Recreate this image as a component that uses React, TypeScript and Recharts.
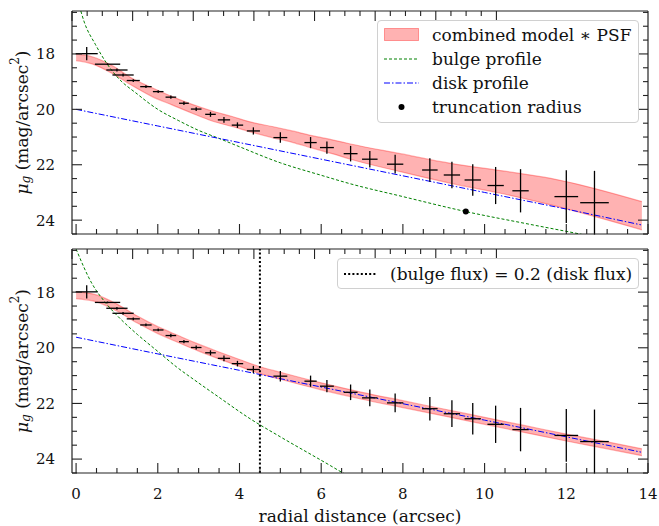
import React from 'react';
import {
  ComposedChart,
  Area,
  Line,
  Scatter,
  ErrorBar,
  XAxis,
  YAxis,
  ReferenceLine,
} from 'recharts';

const FONT = "'DejaVu Serif', serif";
const AXIS = '#222';

// measured surface brightness profile
const radius = [0.26, 0.77, 1.0, 1.15, 1.4, 1.71, 2.01, 2.32, 2.64, 2.94, 3.29, 3.62, 3.95, 4.34, 5.0, 5.74, 6.14, 6.72, 7.19, 7.81, 8.66, 9.2, 9.71, 10.27, 10.88, 12.0, 12.69];
const mu = [17.99, 18.37, 18.58, 18.76, 18.96, 19.18, 19.36, 19.56, 19.78, 19.99, 20.18, 20.38, 20.57, 20.78, 21.02, 21.2, 21.38, 21.6, 21.8, 21.98, 22.19, 22.37, 22.55, 22.75, 22.94, 23.15, 23.37];
const radiusErr = [0.27, 0.31, 0.26, 0.26, 0.16, 0.14, 0.13, 0.13, 0.12, 0.13, 0.13, 0.15, 0.14, 0.16, 0.17, 0.15, 0.17, 0.17, 0.19, 0.2, 0.19, 0.2, 0.2, 0.2, 0.2, 0.29, 0.35];
const muErr = [0.24, 0.03, 0.05, 0.05, 0.05, 0.05, 0.05, 0.06, 0.06, 0.07, 0.09, 0.1, 0.1, 0.13, 0.19, 0.2, 0.22, 0.28, 0.3, 0.34, 0.42, 0.48, 0.57, 0.67, 0.78, 0.95, 1.15];

// top panel: combined model * PSF band
const bandTopX = [0, 0.39, 0.88, 1.37, 1.86, 2.35, 2.84, 3.33, 3.82, 4.31, 4.8, 5.29, 5.78, 6.27, 6.72, 7.94, 9.17, 10.39, 11.62, 13.85];
const bandTopLo = [18.01, 18.1, 18.42, 18.88, 19.22, 19.54, 19.82, 20.06, 20.26, 20.47, 20.62, 20.78, 20.95, 21.1, 21.25, 21.6, 21.95, 22.21, 22.49, 23.33];
const bandTopHi = [18.24, 18.36, 18.7, 19.14, 19.54, 19.84, 20.14, 20.42, 20.62, 20.83, 21.02, 21.19, 21.4, 21.6, 21.8, 22.25, 22.67, 23.03, 23.45, 24.35];

// top panel: components
const bulgeTopX = [0.05, 0.2, 0.47, 0.75, 1.0, 1.5, 2.0, 2.5, 3.0, 3.5, 4.0, 5.0, 6.0, 6.72, 8.0, 9.54, 11.0, 12.4, 13.0];
const bulgeTopY = [16.1, 16.85, 17.65, 18.34, 18.82, 19.45, 20.0, 20.4, 20.76, 21.05, 21.35, 21.93, 22.38, 22.69, 23.15, 23.69, 24.12, 24.52, 24.7];
const diskTopX = [0, 2, 4, 6, 8, 10, 12, 13.83];
const diskTopY = [20.0, 20.6, 21.2, 21.8, 22.4, 23.0, 23.6, 24.17];
const truncX = [9.54];
const truncY = [23.69];

// bottom panel: constrained fit
const bandBotX = [0, 0.5, 1.0, 1.5, 2.0, 2.5, 3.0, 3.5, 4.0, 4.5, 5.0, 6.0, 7.0, 8.0, 9.0, 10.0, 11.0, 12.0, 13.0, 13.85];
const bandBotLo = [17.98, 18.1, 18.43, 18.86, 19.24, 19.56, 19.87, 20.15, 20.42, 20.68, 20.88, 21.26, 21.6, 21.9, 22.2, 22.5, 22.8, 23.1, 23.38, 23.63];
const bandBotHi = [18.23, 18.35, 18.68, 19.11, 19.49, 19.81, 20.12, 20.4, 20.67, 20.93, 21.13, 21.51, 21.85, 22.15, 22.45, 22.75, 23.05, 23.35, 23.63, 23.88];
const bulgeBotX = [0, 0.38, 0.73, 1.03, 1.5, 2.0, 2.46, 2.91, 3.5, 4.26, 5.0, 6.22, 6.51, 6.8];
const bulgeBotY = [16.45, 17.67, 18.4, 18.88, 19.52, 20.13, 20.69, 21.17, 21.78, 22.55, 23.2, 24.23, 24.48, 24.7];
const diskBotX = [0, 2, 4, 6, 8, 10, 12, 13.83];
const diskBotY = [19.62, 20.22, 20.81, 21.41, 22.01, 22.6, 23.2, 23.75];
const fluxRatioRadius = 4.5;

const xTicks = Array.from({ length: 29 }, (_, i) => i * 0.5);
const yTicks = Array.from({ length: 17 }, (_, i) => 16.5 + i * 0.5);

const points = radius.map((x, i) => ({ x, y: mu[i], ex: radiusErr[i], ey: muErr[i] }));
const toSeries = (xs: number[], ys: number[]) => xs.map((x, i) => ({ x, y: ys[i] }));
const toBand = (xs: number[], lo: number[], hi: number[]) =>
  xs.map((x, i) => ({ x, band: [lo[i], hi[i]] }));

const isMajor = (v: number) => Math.abs(v / 2 - Math.round(v / 2)) < 1e-6;

function BottomTick({ x, y, payload, showLabel }: any) {
  const major = isMajor(payload.value);
  return (
    <g>
      <line x1={x} x2={x} y1={y} y2={y - (major ? 10 : 5)} stroke={AXIS} strokeWidth={1.1} />
      {showLabel && major && (
        <text x={x} y={y + 26} textAnchor='middle' fontFamily={FONT} fontSize={15} fill='#111'>
          {payload.value}
        </text>
      )}
    </g>
  );
}

function TopTick({ x, y, payload }: any) {
  const major = isMajor(payload.value);
  return <line x1={x} x2={x} y1={y} y2={y + (major ? 10 : 5)} stroke={AXIS} strokeWidth={1.1} />;
}

function LeftTick({ x, y, payload }: any) {
  const major = isMajor(payload.value);
  return (
    <g>
      <line x1={x} x2={x + (major ? 10 : 5)} y1={y} y2={y} stroke={AXIS} strokeWidth={1.1} />
      {major && (
        <text x={x - 17} y={y} dy='0.36em' textAnchor='end' fontFamily={FONT} fontSize={15} fill='#111'>
          {payload.value}
        </text>
      )}
    </g>
  );
}

function RightTick({ x, y, payload }: any) {
  const major = isMajor(payload.value);
  return <line x1={x} x2={x - (major ? 10 : 5)} y1={y} y2={y} stroke={AXIS} strokeWidth={1.1} />;
}

function YLabel({ viewBox }: any) {
  const cx = 22;
  const cy = viewBox.y + viewBox.height / 2;
  return (
    <text
      x={cx}
      y={cy}
      transform={`rotate(-90, ${cx}, ${cy})`}
      textAnchor='middle'
      dominantBaseline='central'
      fontFamily={FONT}
      fontSize={17}
      fill='#111'
    >
      <tspan fontStyle='italic'>μ</tspan>
      <tspan fontStyle='italic' fontSize={12} dy={4}>g</tspan>
      <tspan dy={-4}> (mag/arcsec</tspan>
      <tspan fontSize={12} dy={-7}>2</tspan>
      <tspan dy={7}>)</tspan>
    </text>
  );
}

const noMarker = () => <g />;

function Panel({ band, bulge, disk, showTrunc, showRatio, bottom }: any) {
  // axes on the bottom, top and right take 1px each
  const height = bottom ? 281 : 245;
  const margin = bottom
    ? { top: 3, right: 10, bottom: 52, left: 12 }
    : { top: 10, right: 10, bottom: 10, left: 12 };
  return (
    <ComposedChart width={659} height={height} margin={margin} data={band}>
      <XAxis
        dataKey='x'
        type='number'
        domain={[-0.1, 14]}
        allowDataOverflow
        ticks={xTicks}
        interval={0}
        height={1}
        tickSize={0}
        tickMargin={0}
        tickLine={false}
        axisLine={{ stroke: AXIS, strokeWidth: 1.2 }}
        tick={(p: any) => <BottomTick {...p} showLabel={bottom} />}
        label={
          bottom
            ? {
                value: 'radial distance (arcsec)',
                position: 'bottom',
                offset: 36,
                fontFamily: FONT,
                fontSize: 17,
                fill: '#111',
              }
            : undefined
        }
      />
      <XAxis
        xAxisId='top'
        orientation='top'
        type='number'
        domain={[-0.1, 14]}
        allowDataOverflow
        ticks={xTicks}
        interval={0}
        height={1}
        tickSize={0}
        tickMargin={0}
        tickLine={false}
        axisLine={{ stroke: AXIS, strokeWidth: 1.2 }}
        tick={(p: any) => <TopTick {...p} />}
      />
      <YAxis
        dataKey='y'
        type='number'
        reversed
        domain={[16.45, 24.5]}
        allowDataOverflow
        ticks={yTicks}
        interval={0}
        width={60}
        tickSize={0}
        tickMargin={0}
        tickLine={false}
        axisLine={{ stroke: AXIS, strokeWidth: 1.2 }}
        tick={(p: any) => <LeftTick {...p} />}
        label={<YLabel />}
      />
      <YAxis
        yAxisId='right'
        orientation='right'
        type='number'
        reversed
        domain={[16.45, 24.5]}
        allowDataOverflow
        ticks={yTicks}
        interval={0}
        width={1}
        tickSize={0}
        tickMargin={0}
        tickLine={false}
        axisLine={{ stroke: AXIS, strokeWidth: 1.2 }}
        tick={(p: any) => <RightTick {...p} />}
      />
      <Area
        dataKey='band'
        type='monotone'
        stroke='#ff0000'
        strokeOpacity={0.3}
        strokeWidth={1.2}
        fill='#ff0000'
        fillOpacity={0.3}
        dot={false}
        activeDot={false}
        isAnimationActive={false}
      />
      <Line
        data={bulge}
        dataKey='y'
        type='monotone'
        stroke='#008000'
        strokeWidth={1}
        strokeDasharray='3 2'
        dot={false}
        activeDot={false}
        isAnimationActive={false}
      />
      <Line
        data={disk}
        dataKey='y'
        type='linear'
        stroke='#0000ff'
        strokeWidth={1}
        strokeDasharray='6 2 1.5 2'
        dot={false}
        activeDot={false}
        isAnimationActive={false}
      />
      {showRatio && (
        <ReferenceLine x={fluxRatioRadius} stroke='#000' strokeWidth={2} strokeDasharray='2 2.2' />
      )}
      <Scatter data={points} shape={noMarker} isAnimationActive={false}>
        <ErrorBar dataKey='ex' direction='x' width={0} stroke='#000' strokeWidth={1.3} isAnimationActive={false} />
        <ErrorBar dataKey='ey' direction='y' width={0} stroke='#000' strokeWidth={1.3} isAnimationActive={false} />
      </Scatter>
      {showTrunc && (
        <Scatter
          data={toSeries(truncX, truncY)}
          shape={(p: any) => <circle cx={p.cx} cy={p.cy} r={3} fill='#000' />}
          isAnimationActive={false}
        />
      )}
    </ComposedChart>
  );
}

const legendRow: React.CSSProperties = {
  position: 'absolute',
  left: 6,
  height: 24,
  display: 'flex',
  alignItems: 'center',
  whiteSpace: 'nowrap',
};

export default function App() {
  return (
    <div
      style={{
        position: 'absolute',
        left: 0,
        top: 0,
        width: 659,
        height: 526,
        background: '#fff',
        fontFamily: FONT,
        fontSize: 17,
        color: '#111',
      }}
    >
      <div style={{ position: 'absolute', left: 0, top: 0 }}>
        <Panel
          band={toBand(bandTopX, bandTopLo, bandTopHi)}
          bulge={toSeries(bulgeTopX, bulgeTopY)}
          disk={toSeries(diskTopX, diskTopY)}
          showTrunc
        />
      </div>
      <div style={{ position: 'absolute', left: 0, top: 245 }}>
        <Panel
          band={toBand(bandBotX, bandBotLo, bandBotHi)}
          bulge={toSeries(bulgeBotX, bulgeBotY)}
          disk={toSeries(diskBotX, diskBotY)}
          showRatio
          bottom
        />
      </div>

      {/* top legend */}
      <div
        style={{
          position: 'absolute',
          left: 377,
          top: 20,
          width: 262,
          height: 103,
          border: '1px solid #d0d0d0',
          borderRadius: 4,
          background: 'rgba(255,255,255,0.85)',
          boxSizing: 'border-box',
        }}
      >
        <div style={{ ...legendRow, top: 2 }}>
          <svg width={36} height={14} style={{ marginRight: 12 }}>
            <rect x={0.5} y={0.5} width={34} height={12} fill='rgba(255,0,0,0.3)' stroke='rgba(255,0,0,0.35)' />
          </svg>
          combined model ∗ PSF
        </div>
        <div style={{ ...legendRow, top: 26 }}>
          <svg width={36} height={14} style={{ marginRight: 12 }}>
            <line x1={0} x2={35} y1={7} y2={7} stroke='#008000' strokeDasharray='3 2' />
          </svg>
          bulge profile
        </div>
        <div style={{ ...legendRow, top: 50 }}>
          <svg width={36} height={14} style={{ marginRight: 12 }}>
            <line x1={0} x2={35} y1={7} y2={7} stroke='#0000ff' strokeDasharray='6 2 1.5 2' />
          </svg>
          disk profile
        </div>
        <div style={{ ...legendRow, top: 74 }}>
          <svg width={36} height={14} style={{ marginRight: 12 }}>
            <circle cx={17.5} cy={7} r={3} fill='#000' />
          </svg>
          truncation radius
        </div>
      </div>

      {/* bottom legend */}
      <div
        style={{
          position: 'absolute',
          left: 337,
          top: 258,
          width: 302,
          height: 31,
          border: '1px solid #d0d0d0',
          borderRadius: 4,
          background: 'rgba(255,255,255,0.85)',
          boxSizing: 'border-box',
        }}
      >
        <div style={{ ...legendRow, top: 3 }}>
          <svg width={36} height={14} style={{ marginRight: 10 }}>
            <line x1={0} x2={32} y1={7} y2={7} stroke='#000' strokeWidth={2} strokeDasharray='2 2.2' />
          </svg>
          (bulge flux) = 0.2 (disk flux)
        </div>
      </div>
    </div>
  );
}
